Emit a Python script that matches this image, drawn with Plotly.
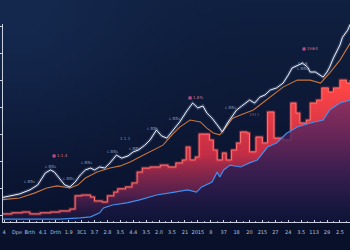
import base64, struct, zlib, math
import plotly.graph_objects as go

# ---------------- data ----------------
tick_days = list(range(0, 270, 10))
tick_labels = ["4", "Dpe", "Brth", "4.1", "Drth", "1.9", "3C1", "3.7", "2.8", "3.5", "4.4", "3.5", "2.0", "3.5",
               "21", "2015", "8", "37", "18", "20", "215", "27", "24", "3.5", "113", "29", "2.5"]

white_days = [-3, 5, 12, 20, 26, 32, 36, 39, 43, 47, 51, 55, 59, 63, 67, 70, 74, 78, 82, 87, 91, 96, 100,
              104, 109, 113, 118, 122, 126, 131, 136, 141, 146, 150, 154, 157, 161, 165, 169, 173, 177, 180,
              184, 190, 194, 198, 202, 206, 211, 216, 220, 223, 228, 231, 235, 237, 241, 245, 247, 250, 252,
              255, 258, 260, 262, 266, 268]
white_vals = [16.5, 17.3, 18.0, 19.5, 21.3, 25.8, 26.9, 26.1, 23.9, 21.3, 20.6, 22.4, 25.0, 26.9, 27.6, 26.9,
              28.0, 27.6, 29.5, 32.4, 31.3, 32.1, 33.6, 34.3, 36.1, 38.0, 41.7, 39.5, 38.7, 41.7, 44.7, 48.4,
              51.7, 49.9, 50.6, 48.0, 46.1, 43.6, 41.0, 44.3, 47.3, 49.1, 50.6, 52.8, 51.7, 53.9, 54.7, 56.5,
              57.3, 59.1, 62.1, 64.7, 65.8, 66.5, 65.0, 63.2, 63.2, 62.1, 61.3, 63.2, 65.0, 68.4, 71.3, 73.2,
              76.1, 78.7, 80.9]

orange_days = [-3, 12, 24, 33, 41, 46, 51, 57, 63, 72, 82, 90, 98, 105, 113, 123, 130, 136, 144, 152, 157,
               162, 167, 173, 177, 183, 193, 200, 206, 216, 227, 237, 245, 252, 260, 268]
orange_vals = [15.8, 16.5, 18.4, 20.2, 21.0, 20.6, 20.2, 21.3, 23.9, 26.1, 27.6, 28.4, 29.9, 31.7, 33.6, 36.1,
               39.9, 42.8, 45.4, 44.7, 42.4, 40.6, 39.9, 43.6, 46.1, 47.3, 49.1, 51.7, 53.9, 57.6, 60.2, 60.2,
               59.1, 62.8, 67.6, 73.9]

red_days = [-3, 6, 14, 20, 28, 36, 43, 51, 55, 60, 67, 70, 76, 80, 85, 88, 94, 99, 103, 107, 113, 121, 127,
            133, 138, 141, 144, 148, 151, 159, 162, 165, 169, 172, 176, 180, 183, 188, 190, 195, 200, 204, 209,
            216, 222, 226, 229, 234, 237, 242, 246, 251, 255, 260, 265, 268]
red_vals = [10.6, 11.0, 11.3, 10.6, 11.0, 11.3, 11.7, 12.4, 17.3, 17.6, 16.9, 15.4, 15.0, 17.3, 18.7, 19.9,
            20.6, 22.1, 26.1, 27.6, 28.0, 28.7, 28.0, 29.5, 30.6, 35.4, 30.6, 31.7, 40.2, 38.0, 34.3, 30.6, 33.2,
            30.6, 34.3, 36.9, 41.0, 40.6, 33.6, 39.1, 36.9, 48.4, 38.7, 38.0, 51.7, 48.0, 44.3, 45.4, 51.7, 52.8,
            57.3, 55.8, 57.3, 60.2, 59.1, 60.2]

blue_days = [-3, 20, 43, 59, 67, 74, 77, 84, 95, 105, 118, 132, 142, 149, 153, 161, 165, 167, 170, 175, 183,
             190, 196, 204, 211, 219, 227, 237, 247, 252, 260, 268]
blue_vals = [8.7, 8.7, 8.7, 9.1, 9.5, 11.0, 12.8, 13.9, 14.7, 15.8, 17.6, 18.7, 19.5, 18.7, 20.6, 22.4, 26.1,
             24.3, 26.9, 28.7, 28.0, 29.5, 30.6, 35.4, 36.9, 40.6, 42.8, 44.3, 45.4, 49.1, 51.7, 52.8]

note_texts = ["c.BBs", "c.BBs", "c.BBs", "c.BBs", "c.BBs", "1.1.1", "c.BBs", "c.BBs", "c.BBs", "c.BBs",
              "1.1.6<br>c.BBs", "c.B."]
note_days = [36, 20, 50, 64, 84, 94, 101, 115, 132, 175, 231, 266]
note_vals = [28.0, 22.8, 23.9, 29.5, 33.9, 38.7, 35.0, 42.1, 46.1, 49.9, 65.5, 81.7]
badge_texts = ["1.1.4", "1.8%", "1H64"]
badge_days = [43, 148, 237]
badge_vals = [32.4, 53.6, 72.1]
dim_texts = ["1911"]
dim_days = [194]
dim_vals = [47.3]

# ---------------- background image ----------------
def make_png(w, h):
    rows = []
    for j in range(h):
        v = j / (h - 1)
        row = bytearray([0])
        for i in range(w):
            u = i / (w - 1)
            top = (16, 32, 64)
            bot = (9, 16, 42)
            c = [top[k] + (bot[k] - top[k]) * v for k in range(3)]
            g = math.exp(-(((u - 0.05) ** 2) / 0.12 + ((v - 0.15) ** 2) / 0.2))
            c = [c[0] + 5 * g, c[1] + 10 * g, c[2] + 16 * g]
            row += bytes(max(0, min(255, int(x))) for x in c)
        rows.append(bytes(row))
    raw = b"".join(rows)
    def chunk(t, d):
        return struct.pack(">I", len(d)) + t + d + struct.pack(">I", zlib.crc32(t + d) & 0xffffffff)
    png = b"\x89PNG\r\n\x1a\n" + chunk(b"IHDR", struct.pack(">IIBBBBB", w, h, 8, 2, 0, 0, 0))
    png += chunk(b"IDAT", zlib.compress(raw)) + chunk(b"IEND", b"")
    return "data:image/png;base64," + base64.b64encode(png).decode()

ML, MR, MT, MB = 3, 0, 24, 28
W, H = 350, 250
PW, PH = W - ML - MR, H - MT - MB

fig = go.Figure()

# red step area
fig.add_trace(go.Scatter(x=red_days, y=red_vals, mode="lines", line=dict(shape="hv", color="rgba(255,70,70,0.35)", width=3),
                         fill="tozeroy",
                         fillgradient=dict(type="vertical", start=7.6, stop=58,
                                           colorscale=[[0, "rgba(40,28,85,0.3)"], [0.2, "rgba(130,40,95,0.6)"],
                                                       [0.5, "rgba(215,48,72,0.9)"], [1, "rgba(255,70,70,1)"]]),
                         hoverinfo="skip"))
fig.add_trace(go.Scatter(x=red_days, y=red_vals, mode="lines", line=dict(shape="hv", color="#ff7474", width=1),
                         hoverinfo="skip"))
# blue line with purple fill
fig.add_trace(go.Scatter(x=blue_days, y=blue_vals, mode="lines", line=dict(color="#3f8ff0", width=1.2),
                         fill="tozeroy",
                         fillgradient=dict(type="vertical", start=7.6, stop=53,
                                           colorscale=[[0, "rgba(14,20,56,0.9)"], [0.5, "rgba(45,30,85,0.8)"],
                                                       [1, "rgba(100,40,104,0.7)"]]),
                         hoverinfo="skip"))
# orange line
fig.add_trace(go.Scatter(x=orange_days, y=orange_vals, mode="lines", line=dict(color="#c8743e", width=1.1),
                         hoverinfo="skip"))
# white line with glow
fig.add_trace(go.Scatter(x=white_days, y=white_vals, mode="lines", line=dict(color="rgba(200,220,255,0.18)", width=3.5),
                         hoverinfo="skip"))
fig.add_trace(go.Scatter(x=white_days, y=white_vals, mode="lines", line=dict(color="#eef2fc", width=1),
                         hoverinfo="skip"))

anns = []
for t, d, v in zip(note_texts, note_days, note_vals):
    anns.append(dict(x=d, y=v, text=t, showarrow=False, font=dict(size=4, color="rgba(190,200,225,0.7)")))
for t, d, v in zip(badge_texts, badge_days, badge_vals):
    anns.append(dict(x=d, y=v, text="<span style='color:#e8508c'>■</span> " + t, showarrow=False,
                     font=dict(size=4, color="rgba(225,150,180,0.85)")))
for t, d, v in zip(dim_texts, dim_days, dim_vals):
    anns.append(dict(x=d, y=v, text=t, showarrow=False, font=dict(size=4, color="rgba(180,115,105,0.75)")))

fig.update_layout(
    width=W, height=H, margin=dict(l=ML, r=MR, t=MT, b=MB),
    paper_bgcolor="#0c1634", plot_bgcolor="rgba(0,0,0,0)",
    showlegend=False, annotations=anns,
    font=dict(family="DejaVu Sans"),
    images=[dict(source=make_png(70, 50), xref="paper", yref="paper", x=-ML / PW, y=1 + MT / PH,
                 sizex=W / PW, sizey=H / PH, sizing="stretch", xanchor="left", yanchor="top", layer="below")],
    xaxis=dict(range=[-0.8, 267.8], tickvals=tick_days, ticktext=tick_labels, showgrid=False, zeroline=False,
               showline=True, linecolor="#c9d0e0", linewidth=1, ticks="inside", ticklen=2, tickcolor="#c9d0e0",
               tickangle=0, tickfont=dict(size=5, color="#b8c2da"), ticklabelstandoff=5,
               minor=dict(ticks="inside", ticklen=1, tickcolor="#9aa4c0", dtick=5, tick0=0)),
    yaxis=dict(range=[7.6, 81.0], tickvals=[10, 20, 30, 40, 50, 60, 70, 80], showticklabels=False, showgrid=False,
               zeroline=False, showline=True, linecolor="#c9d0e0", linewidth=1, ticks="outside", ticklen=3,
               tickcolor="#c9d0e0"),
)

fig.write_html("out.html")
